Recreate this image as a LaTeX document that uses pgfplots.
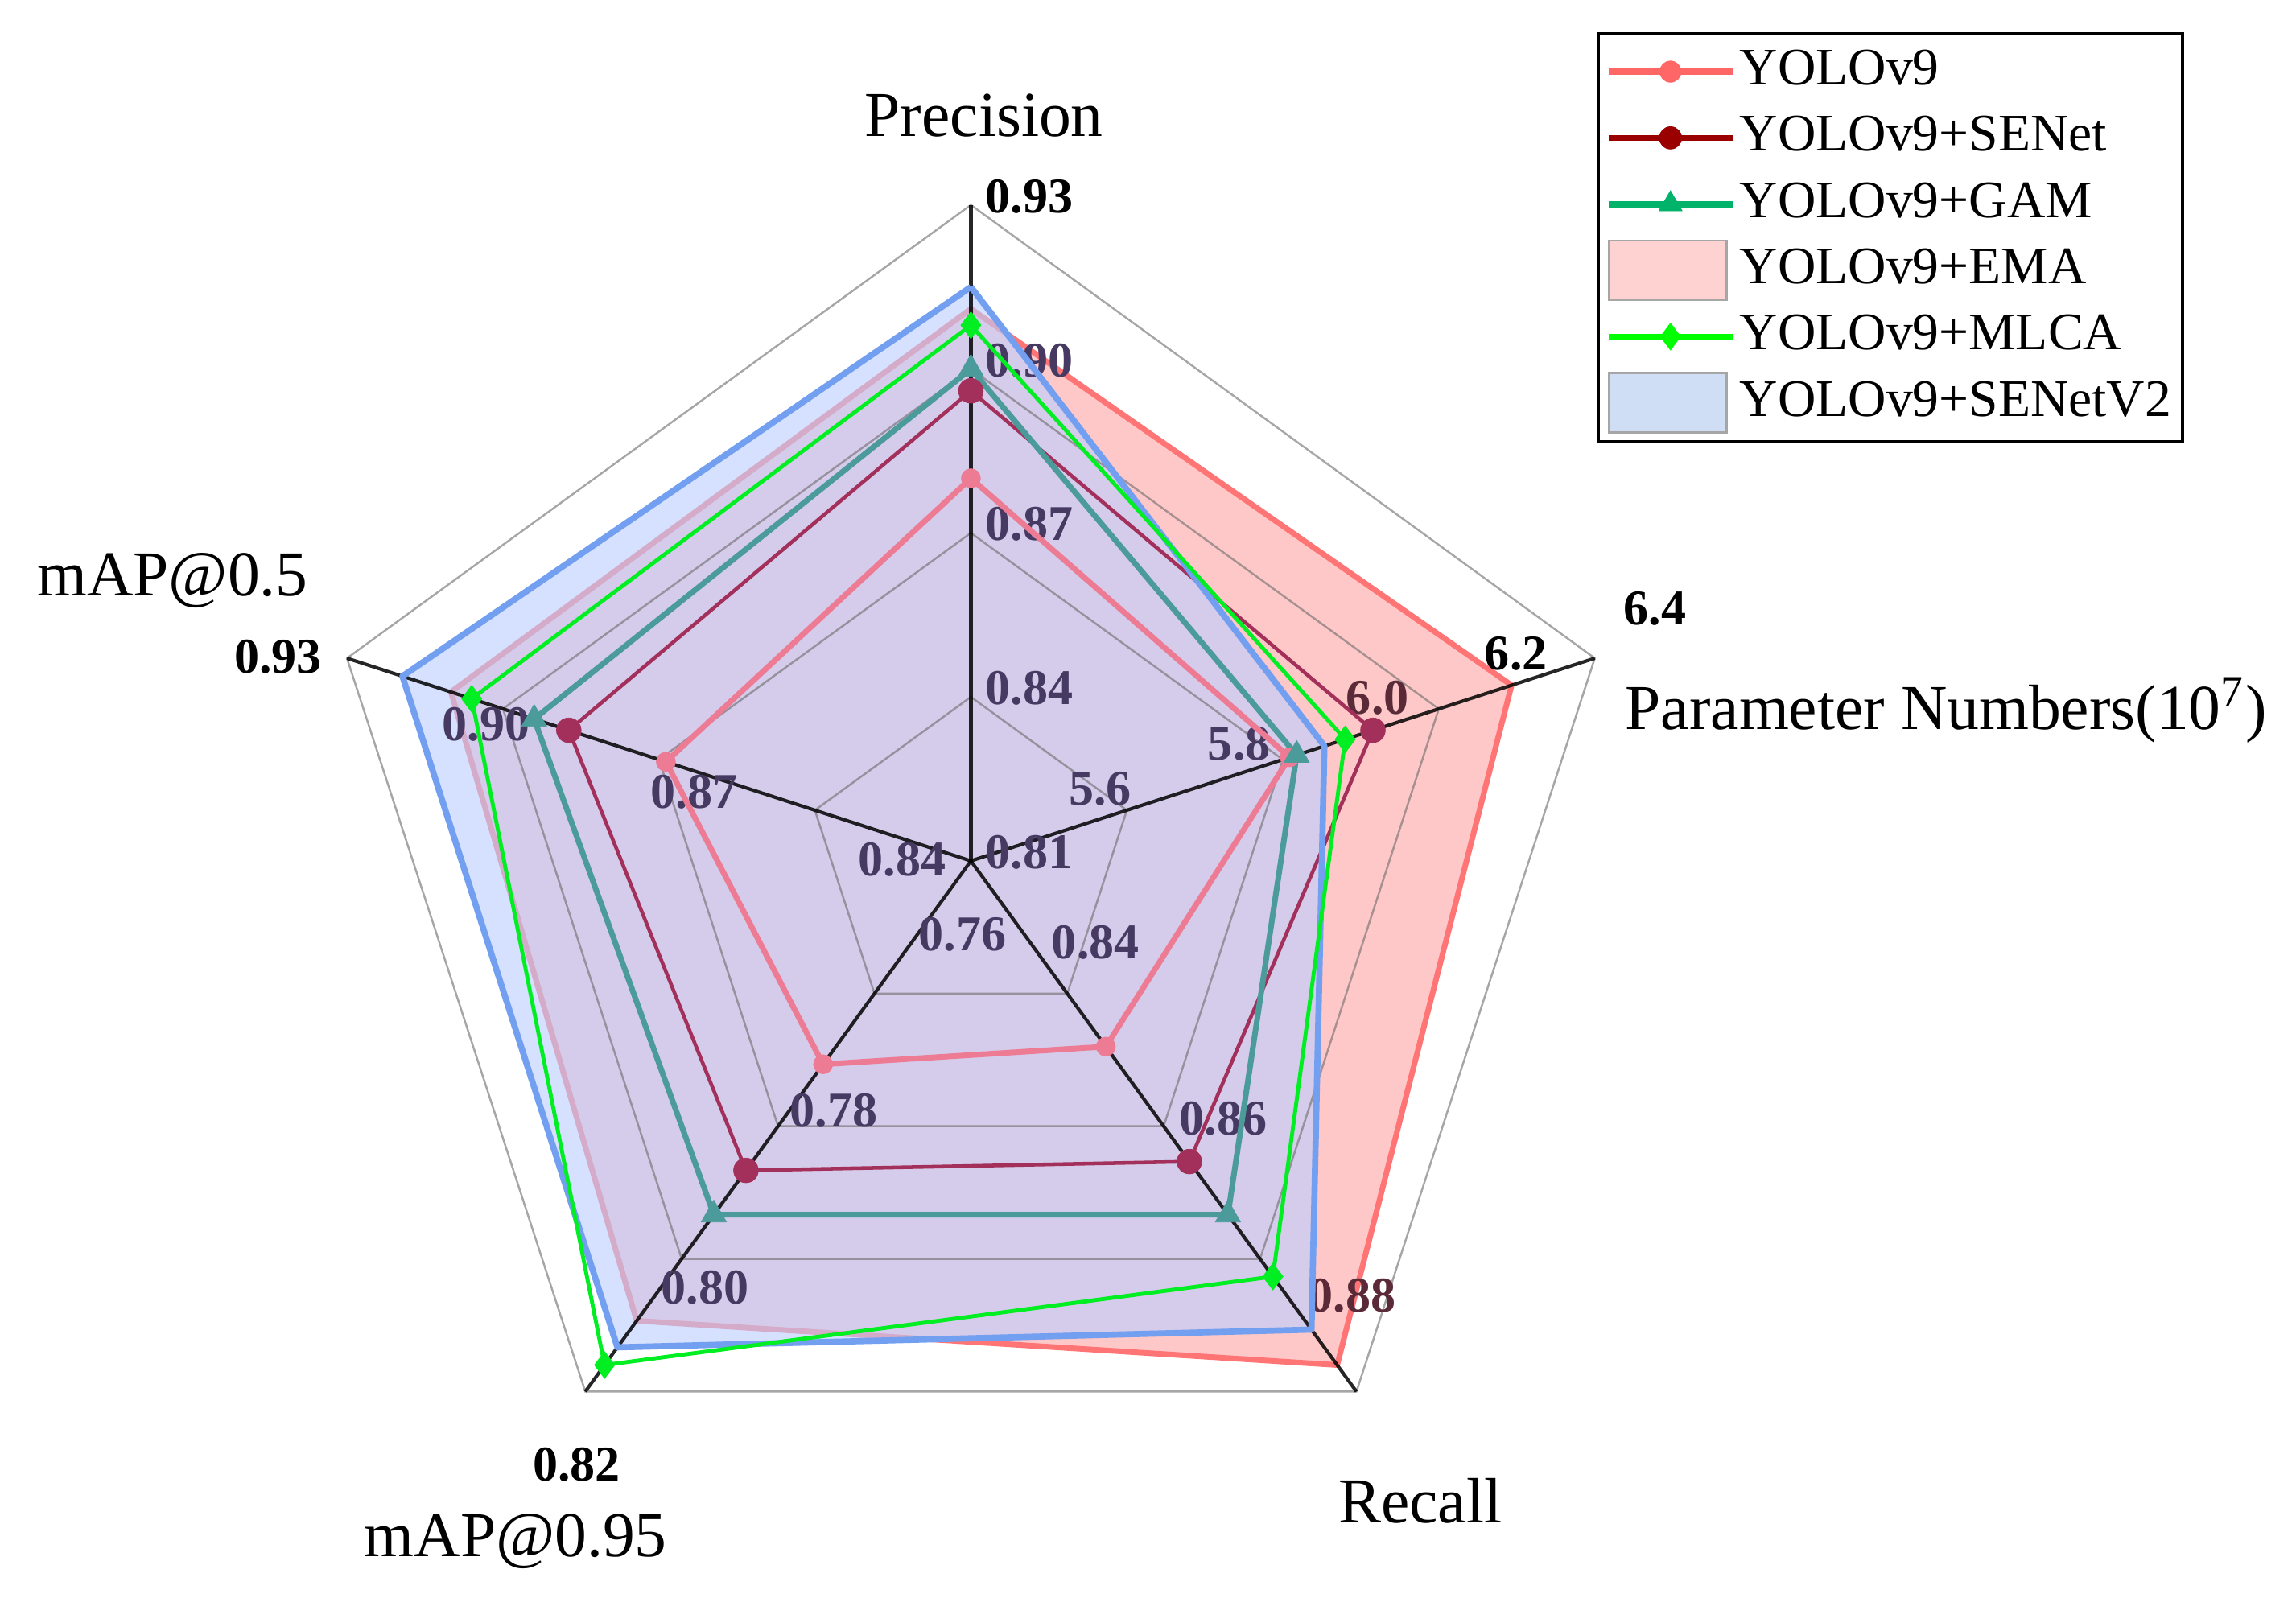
\documentclass[border=0pt]{standalone}
\usepackage{pgfplots}
\pgfplotsset{compat=1.18}
\usepackage{pgfplotstable}
\usepackage{fontspec}
\setmainfont{Liberation Serif}

\definecolor{cYolo}{HTML}{EC7B93}
\definecolor{cYoloL}{HTML}{FF6666}
\definecolor{cSE}{HTML}{A3305A}
\definecolor{cSEL}{HTML}{9B0000}
\definecolor{cGAM}{HTML}{4C9B9B}
\definecolor{cGAML}{HTML}{00B36B}
\definecolor{cMLCA}{HTML}{00EE22}
\definecolor{cMLCAL}{HTML}{00FF00}
\definecolor{cEMAfill}{HTML}{FFC8C8}
\definecolor{cEMAleg}{HTML}{FFD2D2}
\definecolor{cEMAline}{HTML}{FF7474}
\definecolor{cV2fill}{RGB}{188,206,255}
\definecolor{cV2leg}{HTML}{CFDDF5}
\definecolor{cV2line}{HTML}{729FF0}
\definecolor{cTick}{HTML}{463A62}
\definecolor{cTickP}{HTML}{5A2A38}

% columns: spoke angle, spoke min (centre), spoke max (outer), values
\pgfplotstableread{
ang lo hi yolo senet gam ema mlca vtwo
90 0.81 0.93 0.880 0.896 0.900 0.911 0.908 0.915
18 5.5 6.4 5.96 6.08 5.97 6.28 6.04 6.01
-54 0.83 0.89 0.851 0.864 0.870 0.887 0.877 0.883
-126 0.76 0.82 0.783 0.795 0.800 0.812 0.817 0.815
162 0.84 0.93 0.884 0.898 0.903 0.915 0.912 0.922
90 0.81 0.93 0.880 0.896 0.900 0.911 0.908 0.915
}\radar

\newcommand{\nrm}[1]{(\thisrow{#1}-\thisrow{lo})/(\thisrow{hi}-\thisrow{lo})}
\newcommand{\tl}[3][cTick]{\node[text=#1, font=\fontsize{8.9pt}{10pt}\selectfont\bfseries] at (axis cs:#2) {#3};}
\newcommand{\ttl}{\fontsize{11.4pt}{13pt}\selectfont}

\begin{document}
\begin{tikzpicture}
\begin{axis}[
  scale only axis, width=14.37cm, height=9.999cm,
  xmin=-1.480, xmax=2.020, ymin=-1.1228, ymax=1.3125,
  hide axis, clip=false,
  legend image code/.code={\draw[mark repeat=2,mark phase=2,#1] plot coordinates {(0pt,0pt)(11pt,0pt)(22pt,0pt)};},
  legend style={at={(axis cs:0.9554,1.2634)}, anchor=north west, draw=black, line width=0.45pt,
    fill=white, font=\fontsize{9.4pt}{11pt}\selectfont, inner sep=1.2pt, row sep=0.6pt,
    nodes={inner xsep=0.8pt, inner ysep=1.6pt, minimum height=11.2pt}},
  legend cell align=left,
]
% EMA area
\addplot[data cs=polar, draw=none, fill=cEMAfill, forget plot] table[x=ang, y expr={\nrm{ema}}]{\radar};
\addplot[data cs=polar, cEMAline, line width=1.0pt, line join=round, forget plot] table[x=ang, y expr={\nrm{ema}}]{\radar};
% SENetV2 area
\addplot[data cs=polar, draw=none, fill=cV2fill, fill opacity=0.62, forget plot] table[x=ang, y expr={\nrm{vtwo}}]{\radar};

% grid pentagons
\pgfplotsinvokeforeach{0.25,0.5,0.75,1}{
\addplot[data cs=polar, color=black!58, opacity=0.6, line width=0.35pt, forget plot]
  coordinates {(90,#1)(18,#1)(-54,#1)(-126,#1)(162,#1)(90,#1)};
}
% spokes
\pgfplotsinvokeforeach{90,18,-54,-126,162}{
\addplot[data cs=polar, black, opacity=0.85, line width=0.6pt, forget plot] coordinates {(#1,0)(#1,1)};
}

% tick labels
\tl[black]{0.089,1.013}{0.93}
\tl{0.089,0.763}{0.90}
\tl{0.089,0.513}{0.87}
\tl{0.089,0.263}{0.84}
\tl{0.089,0.013}{0.81}
\tl{0.197,0.110}{5.6}
\tl{0.409,0.179}{5.8}
\tl[cTickP]{0.620,0.248}{6.0}
\tl[black]{0.831,0.316}{6.2}
\tl[black]{1.043,0.385}{6.4}
\tl{0.190,-0.124}{0.84}
\tl{0.385,-0.393}{0.86}
\tl[cTickP]{0.581,-0.663}{0.88}
\tl{-0.013,-0.112}{0.76}
\tl{-0.209,-0.381}{0.78}
\tl{-0.405,-0.651}{0.80}
\tl[black]{-0.601,-0.921}{0.82}
\tl{-0.105,0.002}{0.84}
\tl{-0.422,0.105}{0.87}
\tl{-0.739,0.208}{0.90}
\tl[black]{-1.056,0.311}{0.93}

% spoke titles
\node[font=\ttl, anchor=base] at (axis cs:0.020,1.105) {Precision};
\node[font=\ttl, anchor=base west, inner xsep=0pt] at (axis cs:0.996,0.201) {Parameter Numbers(10\textsuperscript{7})};
\node[font=\ttl, anchor=base] at (axis cs:0.685,-1.009) {Recall};
\node[font=\ttl, anchor=base] at (axis cs:-0.694,-1.060) {mAP@0.95};
\node[font=\ttl, anchor=base] at (axis cs:-1.217,0.404) {mAP@0.5};

% series
\addplot[data cs=polar, cYolo, line width=1.0pt, line join=round, mark=*, mark size=1.7pt,
  mark indices={1,2,3,4,5}, mark options={solid, fill=cYolo, draw=cYolo, line width=0.1pt}, forget plot]
  table[x=ang, y expr={\nrm{yolo}}]{\radar};
\addplot[data cs=polar, cSE, line width=0.65pt, line join=round, mark=*, mark size=2.2pt,
  mark indices={1,2,3,4,5}, mark options={solid, fill=cSE, draw=cSE, line width=0.1pt}, forget plot]
  table[x=ang, y expr={\nrm{senet}}]{\radar};
\addplot[data cs=polar, cGAM, line width=1.0pt, line join=round, mark=triangle*, mark size=2.6pt,
  mark indices={1,2,3,4,5}, mark options={solid, fill=cGAM, draw=cGAM, line width=0.1pt}, forget plot]
  table[x=ang, y expr={\nrm{gam}}]{\radar};
\addplot[data cs=polar, cV2line, line width=1.1pt, line join=round, forget plot]
  table[x=ang, y expr={\nrm{vtwo}}]{\radar};
\addplot[data cs=polar, cMLCA, line width=0.7pt, line join=round, mark=diamond*, mark size=2.4pt,
  mark indices={1,2,3,4,5}, mark options={solid, fill=cMLCA, draw=cMLCA, line width=0.1pt}, forget plot]
  table[x=ang, y expr={\nrm{mlca}}]{\radar};

% legend
\addlegendimage{cYoloL, line width=1.1pt, mark=*, mark size=1.9pt, mark options={solid, fill=cYoloL, draw=cYoloL, line width=0.1pt}}
\addlegendentry{YOLOv9}
\addlegendimage{cSEL, line width=1.1pt, mark=*, mark size=2.0pt, mark options={solid, fill=cSEL, draw=cSEL, line width=0.1pt}}
\addlegendentry{YOLOv9+SENet}
\addlegendimage{cGAML, line width=1.1pt, mark=triangle*, mark size=2.4pt, mark options={solid, fill=cGAML, draw=cGAML, line width=0.1pt}}
\addlegendentry{YOLOv9+GAM}
\addlegendimage{legend image code/.code={\draw[fill=cEMAleg, draw=black!35, line width=0.4pt] (0pt,-5.3pt) rectangle (21pt,5.3pt);}}
\addlegendentry{YOLOv9+EMA}
\addlegendimage{cMLCAL, line width=1.1pt, mark=diamond*, mark size=2.4pt, mark options={solid, fill=cMLCAL, draw=cMLCAL, line width=0.1pt}}
\addlegendentry{YOLOv9+MLCA}
\addlegendimage{legend image code/.code={\draw[fill=cV2leg, draw=black!35, line width=0.4pt] (0pt,-5.3pt) rectangle (21pt,5.3pt);}}
\addlegendentry{YOLOv9+SENetV2}
\end{axis}
\pgfresetboundingbox
\path (current axis.south west) rectangle (current axis.north east);
\end{tikzpicture}
\end{document}
